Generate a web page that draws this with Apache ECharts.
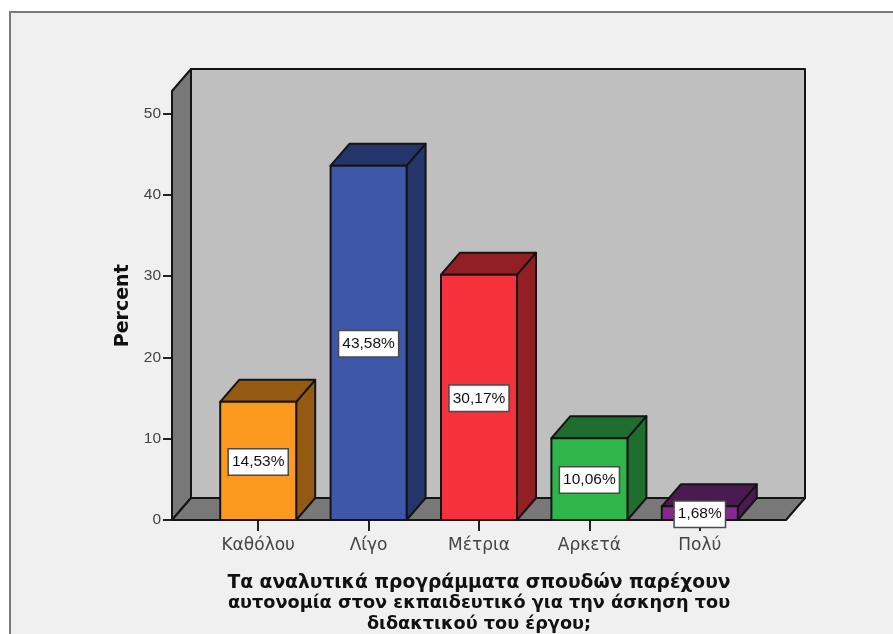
<!DOCTYPE html>
<html>
<head>
<meta charset="utf-8">
<style>
  html, body { margin: 0; padding: 0; background: #ffffff; overflow: hidden; }
  #chart { width: 893px; height: 634px; }
</style>
<script src="https://cdn.jsdelivr.net/npm/echarts@6/dist/echarts.min.js"></script>
</head>
<body>
<div id="chart"></div>
<script>
// Survey answers and their shares, in percent
const categories = ['Καθόλου', 'Λίγο', 'Μέτρια', 'Αρκετά', 'Πολύ'];
const percents = [14.53, 43.58, 30.17, 10.06, 1.68];
const yTicks = [0, 10, 20, 30, 40, 50];
const wallTopValue = 52.77;

const frontColors = ['#fc9a1f', '#3e57a8', '#f5323b', '#2fb64a', '#85298a'];
const darkColors = ['#945a12', '#24356b', '#921f23', '#1f6e2f', '#4a1a50'];

const axisTitle = 'Percent';
const xTitleLines = [
  'Τα αναλυτικά προγράμματα σπουδών παρέχουν',
  'αυτονομία στον εκπαιδευτικό για την άσκηση του',
  'διδακτικού του έργου;'
];
const xTitleSizes = [18.7, 17.7, 17.7];

// Depth of the 3D projection, in pixels
const DEPTH_X = 19;
const DEPTH_Y = 22;
const EDGE = '#141414';
const BAR_WIDTH = 76;

function poly(points, fill, z2) {
  return {
    type: 'polygon',
    z2: z2 || 0,
    shape: { points },
    style: { fill, stroke: EDGE, lineWidth: 2, lineJoin: 'round' }
  };
}

// Back wall, left wall and floor of the box around the plot
function renderWalls(params, api) {
  const cs = params.coordSys;
  const x0 = cs.x - 31;
  const x1 = cs.x + cs.width + 31;
  const yBase = api.coord([0, 0])[1];
  const yTop = api.coord([0, api.value(1)])[1];
  return {
    type: 'group',
    children: [
      poly([[x0 + DEPTH_X, yTop - DEPTH_Y], [x1 + DEPTH_X, yTop - DEPTH_Y], [x1 + DEPTH_X, yBase - DEPTH_Y], [x0 + DEPTH_X, yBase - DEPTH_Y]], '#bfbfbf'),
      poly([[x0, yBase], [x0, yTop], [x0 + DEPTH_X, yTop - DEPTH_Y], [x0 + DEPTH_X, yBase - DEPTH_Y]], '#787878'),
      poly([[x0, yBase], [x0 + DEPTH_X, yBase - DEPTH_Y], [x1 + DEPTH_X, yBase - DEPTH_Y], [x1, yBase]], '#787878')
    ]
  };
}

// One extruded bar with its value tag at half height
function renderBar(params, api) {
  const i = params.dataIndex;
  const top = api.coord([i, api.value(1)]);
  const base = api.coord([i, 0]);
  const l = top[0] - BAR_WIDTH / 2;
  const r = top[0] + BAR_WIDTH / 2;
  const t = top[1];
  const b = base[1];
  const front = frontColors[i];
  const dark = darkColors[i];
  return {
    type: 'group',
    children: [
      poly([[r, b], [r, t], [r + DEPTH_X, t - DEPTH_Y], [r + DEPTH_X, b - DEPTH_Y]], dark),
      poly([[l, t], [l + DEPTH_X, t - DEPTH_Y], [r + DEPTH_X, t - DEPTH_Y], [r, t]], dark),
      poly([[l, t], [r, t], [r, b], [l, b]], front),
      {
        type: 'text',
        z2: 10,
        x: top[0],
        y: (t + b) / 2 + 1,
        style: {
          text: percents[i].toFixed(2).replace('.', ',') + '%',
          font: '15.5px "Liberation Sans", Arial, sans-serif',
          fill: '#111111',
          align: 'center',
          verticalAlign: 'middle',
          backgroundColor: '#ffffff',
          borderColor: '#4a4a4a',
          borderWidth: 1.5,
          padding: [5, 3, 4, 3]
        }
      }
    ]
  };
}

// Each title line gets its own rich-text style so all three can be sized separately
const titleRich = {};
xTitleLines.forEach((_, i) => {
  titleRich['l' + i] = {
    color: '#111111',
    fontSize: xTitleSizes[i],
    fontWeight: 'bold',
    fontFamily: 'DejaVu Sans',
    lineHeight: 20.5
  };
});

const chart = echarts.init(document.getElementById('chart'), null, { renderer: 'canvas' });
chart.setOption({
  animation: false,
  backgroundColor: '#ffffff',
  graphic: [{
    type: 'rect',
    z: -10,
    shape: { x: 10, y: 12, width: 900, height: 640 },
    style: { fill: '#f0f0f0', stroke: '#7a7a7a', lineWidth: 2 }
  }],
  grid: { left: 203, top: 113.5, width: 552, height: 406.5, outerBoundsMode: 'none' },
  xAxis: {
    type: 'category',
    data: categories,
    axisLine: { show: false },
    axisTick: { show: true, alignWithLabel: true, length: 11, lineStyle: { color: '#222222', width: 2 } },
    axisLabel: { color: '#444444', fontSize: 17, fontFamily: 'DejaVu Sans', margin: 17 },
    name: xTitleLines.map((line, i) => `{l${i}|${line}}`).join('\n'),
    nameLocation: 'middle',
    nameGap: 53,
    nameTextStyle: { color: '#111111', fontSize: 18, fontWeight: 'bold', fontFamily: 'DejaVu Sans', lineHeight: 20.5, rich: titleRich }
  },
  yAxis: {
    type: 'value',
    min: 0,
    max: 50,
    interval: 10,
    offset: 31,
    splitLine: { show: false },
    axisLine: { show: true, lineStyle: { color: '#222222', width: 2 } },
    axisTick: { show: true, length: 9, lineStyle: { color: '#222222', width: 2 } },
    axisLabel: { color: '#444444', fontSize: 15.5, fontFamily: 'Liberation Sans', margin: 11, padding: [3, 0, 0, 0], customValues: yTicks },
    name: axisTitle,
    nameLocation: 'middle',
    nameGap: 39,
    nameTextStyle: { color: '#111111', fontSize: 19, fontWeight: 'bold', fontFamily: 'DejaVu Sans', padding: [0, 0, 0, 22] }
  },
  series: [
    { type: 'custom', z: 1, silent: true, renderItem: renderWalls, data: [[0, wallTopValue]] },
    {
      type: 'custom',
      z: 2,
      silent: true,
      renderItem: renderBar,
      encode: { x: 0, y: 1 },
      data: percents.map((v, i) => [i, v])
    }
  ]
});
</script>
</body>
</html>
